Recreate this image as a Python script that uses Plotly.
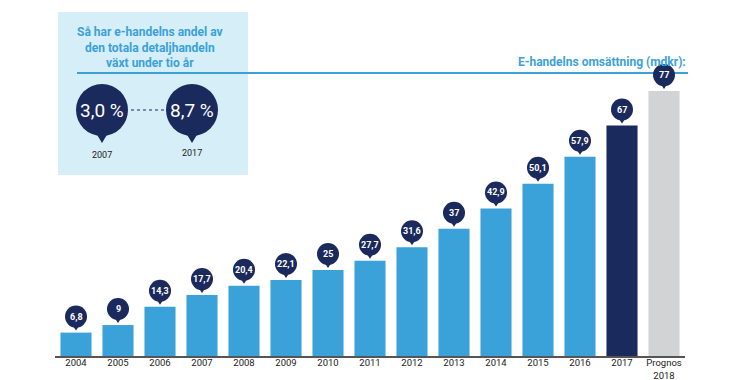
import plotly.graph_objects as go

# ---- data ----
years = ["2004", "2005", "2006", "2007", "2008", "2009", "2010", "2011",
         "2012", "2013", "2014", "2015", "2016", "2017", "Prognos<br>2018"]
values = [6.8, 9, 14.3, 17.7, 20.4, 22.1, 25, 27.7, 31.6, 37, 42.9, 50.1, 57.9, 67, 77]
value_labels = ["6,8", "9", "14,3", "17,7", "20,4", "22,1", "25", "27,7", "31,6",
                "37", "42,9", "50,1", "57,9", "67", "77"]
share_years = ["2007", "2017"]
share_labels = ["3,0 %", "8,7 %"]
inset_title = "Så har e-handelns andel av<br>den totala detaljhandeln<br>växt under tio år"
chart_title = "E-handelns omsättning (mdkr):"

BLUE = "#3aa1d9"
NAVY = "#1b2a5c"
GRAY = "#d1d3d5"
BOXBG = "#d5eef8"
FONT = "Roboto"

W, H = 740, 380
L, R, T, B = 55, 55, 60, 24
PW, PH = W - L - R, H - T - B


def px(x):
    return (x - L) / PW


def py(y):
    return (H - B - y) / PH


colors = [BLUE] * (len(values) - 2) + [NAVY, GRAY]
xs = list(range(len(values)))

fig = go.Figure()
fig.add_trace(go.Bar(x=xs, y=values, marker=dict(color=colors, line=dict(width=0)),
                     hoverinfo="skip"))

shapes = []
annotations = []

# inset box
shapes.append(dict(type="rect", xref="paper", yref="paper", layer="below",
                   x0=px(58), x1=px(248), y0=py(175), y1=py(12),
                   fillcolor=BOXBG, line=dict(width=0)))
# header line
shapes.append(dict(type="line", xref="paper", yref="paper",
                   x0=px(77), x1=px(688), y0=py(73), y1=py(73),
                   line=dict(color=BLUE, width=2)))
# dotted connector
shapes.append(dict(type="line", xref="paper", yref="paper",
                   x0=px(131), x1=px(166), y0=py(110), y1=py(110),
                   line=dict(color=NAVY, width=1.2, dash="dot")))

annotations.append(dict(xref="paper", yref="paper", x=px(150), y=py(48),
                        text="<b>" + inset_title + "</b>", showarrow=False,
                        font=dict(family=FONT, size=12, color=BLUE),
                        xanchor="center", yanchor="middle", align="center"))
annotations.append(dict(xref="paper", yref="paper", x=px(688), y=py(62),
                        text="<b>" + chart_title + "</b>", showarrow=False,
                        font=dict(family=FONT, size=12, color=BLUE),
                        xanchor="right", yanchor="middle"))

# big pins in inset
for cx, lab, yr, ly in zip([102, 192], share_labels, share_years, [155, 153]):
    shapes.append(dict(type="circle", xref="paper", yref="paper",
                       x0=px(cx - 26), x1=px(cx + 26), y0=py(136), y1=py(84),
                       fillcolor=NAVY, line=dict(width=0)))
    shapes.append(dict(type="path", xref="paper", yref="paper",
                       path=f"M {px(cx-6)},{py(133)} L {px(cx+6)},{py(133)} L {px(cx)},{py(143)} Z",
                       fillcolor=NAVY, line=dict(width=0)))
    annotations.append(dict(xref="paper", yref="paper", x=px(cx), y=py(110),
                            text=lab, showarrow=False,
                            font=dict(family=FONT, size=19, color="white"),
                            xanchor="center", yanchor="middle"))
    annotations.append(dict(xref="paper", yref="paper", x=px(cx), y=py(ly),
                            text=yr, showarrow=False,
                            font=dict(family=FONT, size=9, color="#222"),
                            xanchor="center", yanchor="middle"))

# value pins above bars
for i, (v, lab) in enumerate(zip(values, value_labels)):
    shapes.append(dict(type="circle", xref="x", yref="y",
                       xsizemode="pixel", ysizemode="pixel",
                       xanchor=i, yanchor=v,
                       x0=-11, x1=11, y0=5, y1=27,
                       fillcolor=NAVY, line=dict(width=0)))
    shapes.append(dict(type="path", xref="x", yref="y",
                       xsizemode="pixel", ysizemode="pixel",
                       xanchor=i, yanchor=v,
                       path="M -4,8 L 4,8 L 0,2 Z",
                       fillcolor=NAVY, line=dict(width=0)))
    annotations.append(dict(x=i, y=v, yshift=16, text="<b>" + lab + "</b>",
                            showarrow=False,
                            font=dict(family=FONT, size=9, color="white"),
                            xanchor="center", yanchor="middle"))

fig.update_layout(
    width=W, height=H,
    margin=dict(l=L, r=R, t=T, b=B, pad=0, autoexpand=False),
    paper_bgcolor="white", plot_bgcolor="white",
    showlegend=False, bargap=0.26,
    shapes=shapes, annotations=annotations,
    font=dict(family=FONT),
    xaxis=dict(range=[-0.5, 14.5], tickvals=xs, ticktext=years,
               showgrid=False, zeroline=False, showline=True,
               linecolor="#555", linewidth=1.5, ticks="",
               ticklabelstandoff=-3,
               tickfont=dict(family=FONT, size=9.5, color="#222"),
               automargin=False, fixedrange=True),
    yaxis=dict(range=[0, PH / 3.44], visible=False, showgrid=False,
               zeroline=False, automargin=False, fixedrange=True),
)

fig.write_html("out.html", config={"displayModeBar": False},
               post_script="document.body.style.margin='0';document.body.style.overflow='hidden';")
